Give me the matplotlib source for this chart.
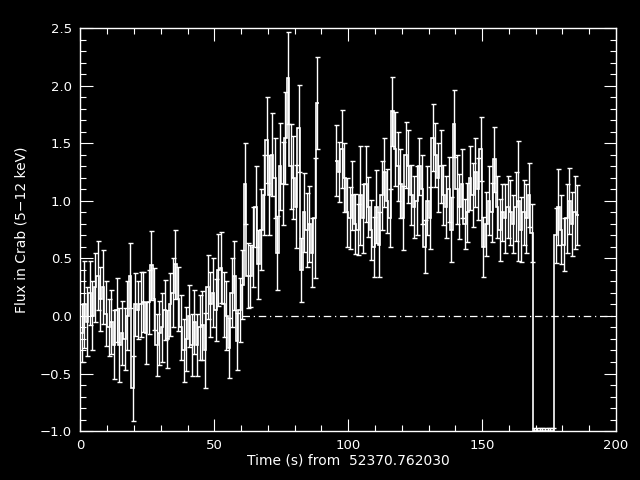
import numpy as np
import matplotlib
matplotlib.use('Agg')
import matplotlib.pyplot as plt
from matplotlib.ticker import MultipleLocator

# primer tramo: bins de 1 s desde t=0 hasta t=88
t_start_1 = 0
flux_1 = [
  -0.15, 0.10, -0.05, 0.20, 0.00, 0.25, 0.35, 0.15, 0.25, 0.02,
  -0.10, -0.05, -0.25, 0.05, -0.25, -0.15, -0.20, 0.00, 0.35, -0.63,
  0.10, 0.05, 0.10, 0.12, -0.15, 0.12, 0.44, 0.15, -0.25, -0.15,
  -0.10, 0.05, -0.20, 0.10, 0.20, 0.45, 0.15, -0.10, -0.30, -0.20,
  0.00, -0.25, -0.05, -0.25, -0.10, -0.08, -0.30, 0.25, 0.10, 0.20,
  0.05, 0.40, 0.42, 0.10, 0.00, -0.28, 0.20, 0.35, -0.22, 0.05,
  0.27, 1.15, 0.35, 0.35, 0.60, 0.95, 0.45, 0.75, 1.05, 1.53,
  1.05, 1.40, 1.20, 0.55, 1.30, 1.15, 1.55, 2.07, 1.30, 1.20,
  0.95, 1.63, 0.40, 0.90, 0.75, 0.80, 0.55, 0.85, 1.85,
]
err_1 = [
  0.25, 0.38, 0.30, 0.28, 0.30, 0.30, 0.30, 0.28, 0.32, 0.28,
  0.25, 0.28, 0.30, 0.28, 0.32, 0.28, 0.27, 0.30, 0.28, 0.28,
  0.27, 0.25, 0.28, 0.26, 0.27, 0.28, 0.30, 0.27, 0.27, 0.28,
  0.30, 0.26, 0.25, 0.27, 0.30, 0.30, 0.28, 0.28, 0.27, 0.28,
  0.27, 0.27, 0.28, 0.27, 0.28, 0.30, 0.33, 0.28, 0.28, 0.30,
  0.27, 0.31, 0.31, 0.28, 0.30, 0.26, 0.30, 0.30, 0.25, 0.28,
  0.30, 0.35, 0.28, 0.27, 0.35, 0.35, 0.30, 0.35, 0.35, 0.37,
  0.35, 0.36, 0.35, 0.32, 0.38, 0.36, 0.40, 0.40, 0.37, 0.36,
  0.36, 0.38, 0.28, 0.34, 0.32, 0.33, 0.30, 0.52, 0.40,
]

# segundo tramo: t=95 hasta t=185, con caida de datos (169-176)
t_start_2 = 95
flux_2 = [
  1.35, 1.25, 1.45, 1.20, 0.90, 0.85, 1.05, 0.80, 0.75, 1.05,
  0.85, 1.15, 0.95, 0.75, 0.60, 0.95, 0.62, 1.05, 1.25, 1.00,
  0.85, 1.78, 1.45, 1.30, 1.15, 0.85, 1.40, 1.30, 1.05, 0.95,
  1.00, 1.30, 1.10, 0.60, 1.00, 0.85, 1.55, 1.40, 1.20, 1.30,
  1.05, 0.95, 1.10, 0.75, 1.67, 1.10, 0.95, 1.15, 0.80, 0.90,
  1.20, 1.05, 1.25, 1.10, 1.45, 0.60, 0.80, 1.00, 0.90, 1.36,
  0.95, 0.75, 0.90, 0.85, 0.95, 0.90, 0.80, 0.95, 1.00, 0.75,
  0.90, 0.85, 1.05, 0.72,
  -1.0, -1.0, -1.0, -1.0, -1.0, -1.0, -1.0, -1.0,
  0.70, 0.95, 0.75, 0.62, 0.85, 1.00, 0.80, 0.90, 0.88,
]
err_2 = [
  0.31, 0.26, 0.34, 0.30, 0.30, 0.27, 0.30, 0.26, 0.22, 0.43,
  0.30, 0.33, 0.26, 0.26, 0.26, 0.32, 0.28, 0.30, 0.30, 0.28,
  0.25, 0.30, 0.32, 0.30, 0.30, 0.28, 0.29, 0.32, 0.26, 0.27,
  0.30, 0.25, 0.30, 0.23, 0.30, 0.27, 0.29, 0.28, 0.30, 0.32,
  0.26, 0.27, 0.28, 0.28, 0.29, 0.30, 0.28, 0.30, 0.22, 0.26,
  0.28, 0.28, 0.30, 0.27, 0.28, 0.26, 0.28, 0.30, 0.26, 0.28,
  0.27, 0.27, 0.25, 0.30, 0.27, 0.28, 0.25, 0.30, 0.52, 0.28,
  0.28, 0.30, 0.28, 0.25,
  0.03, 0.03, 0.03, 0.03, 0.03, 0.03, 0.03, 0.03,
  0.24, 0.33, 0.30, 0.23, 0.30, 0.29, 0.28, 0.32, 0.26,
]

plt.rcParams['font.family'] = 'DejaVu Sans'
plt.rcParams['axes.unicode_minus'] = True

fig = plt.figure(figsize=(6.4, 4.8), dpi=100, facecolor='black')
ax = fig.add_axes([0.1256, 0.102, 0.837, 0.839], facecolor='black')

for t0, flux, err in [(t_start_1, flux_1, err_1), (t_start_2, flux_2, err_2)]:
  flux = np.array(flux)
  err = np.array(err)
  edges = t0 + np.arange(len(flux) + 1)
  centers = edges[:-1] + 0.5
  ax.stairs(flux, edges, baseline=None, color='white', linewidth=1.2)
  ax.errorbar(centers, flux, yerr=err, fmt='none', ecolor='white',
              elinewidth=1.0, capsize=1.8, capthick=1.0)

# linea de cero
ax.plot([60.5, 200], [0, 0], color='white', linewidth=0.9, linestyle='-.',
        dashes=(6, 3, 1, 3))

ax.set_xlim(0, 200)
ax.set_ylim(-1.0, 2.5)
ax.xaxis.set_major_locator(MultipleLocator(50))
ax.xaxis.set_minor_locator(MultipleLocator(10))
ax.yaxis.set_major_locator(MultipleLocator(0.5))
ax.yaxis.set_minor_locator(MultipleLocator(0.1))
ax.yaxis.set_major_formatter(plt.FuncFormatter(lambda v, p: f'{v:.1f}'.replace('-', '\u2212')))

for spine in ax.spines.values():
  spine.set_color('white')
  spine.set_linewidth(1.0)
ax.tick_params(which='both', direction='in', colors='white', top=True, right=True,
               labelsize=9.5, width=0.8)
ax.tick_params(which='major', length=9, pad=6)
ax.tick_params(which='minor', length=4.5)

ax.set_xlabel('Time (s) from  52370.762030', color='white', fontsize=10, labelpad=1)
ax.set_ylabel('Flux in Crab (5\u221212 keV)', color='white', fontsize=10, labelpad=8)

fig.savefig('out.png', dpi=100, facecolor='black')
